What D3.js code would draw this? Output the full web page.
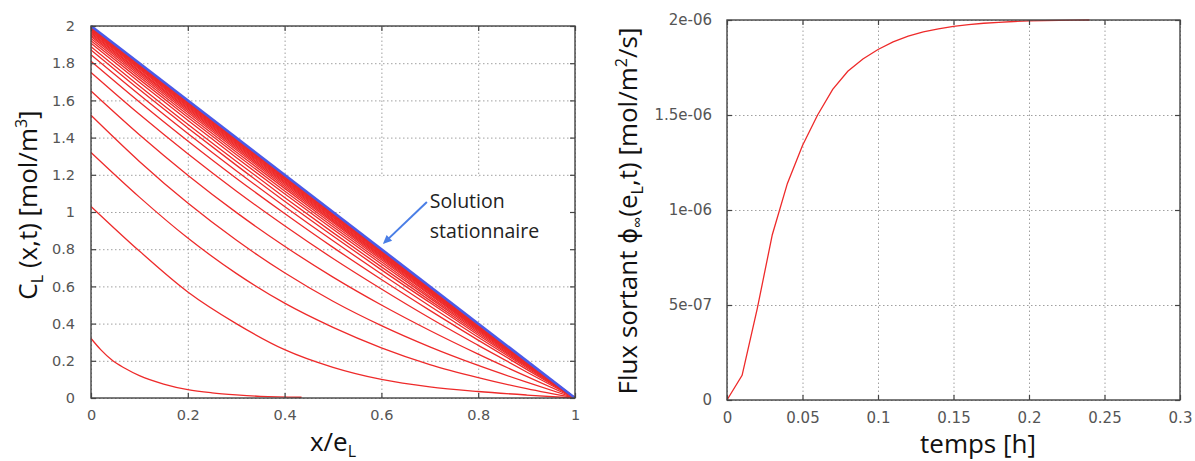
<!DOCTYPE html>
<html><head><meta charset="utf-8">
<script src="https://cdn.jsdelivr.net/npm/d3@7"></script>
<style>body{margin:0;background:#fff}</style></head>
<body><svg id="c" width="1195" height="461"></svg>
<script>
// ---------- DATA ----------
// Left panel: concentration profiles C_L(x,t) vs x/e_L
const profileX = [0,0.1,0.2,0.3,0.4,0.5,0.6,0.7,0.8,0.9,1];
const earlyX = [0,0.02,0.045,0.07,0.1,0.15,0.2,0.25,0.3,0.35,0.435];
const earlyC = [0.32,0.26,0.20,0.16,0.12,0.075,0.045,0.028,0.017,0.009,0.004];
const profiles = [
 [1.03,0.79,0.57,0.40,0.26,0.165,0.10,0.06,0.035,0.016,0],
 [1.32,1.08,0.86,0.67,0.51,0.38,0.27,0.18,0.11,0.05,0],
 [1.52,1.272,1.048,0.849,0.673,0.52,0.389,0.275,0.175,0.085,0],
 [1.65,1.415,1.198,0.998,0.816,0.65,0.50,0.363,0.236,0.116,0],
 [1.75,1.525,1.313,1.113,0.926,0.75,0.586,0.43,0.283,0.14,0],
 [1.81,1.591,1.382,1.182,0.992,0.81,0.637,0.471,0.311,0.154,0],
 [1.845,1.63,1.422,1.222,1.03,0.845,0.667,0.495,0.327,0.163,0],
 [1.871,1.658,1.452,1.252,1.058,0.871,0.689,0.513,0.339,0.169,0],
 [1.889,1.678,1.472,1.273,1.078,0.889,0.705,0.525,0.348,0.173,0],
 [1.907,1.698,1.493,1.293,1.098,0.907,0.72,0.537,0.356,0.178,0],
 [1.921,1.713,1.509,1.309,1.113,0.921,0.732,0.546,0.363,0.181,0],
 [1.933,1.726,1.523,1.323,1.127,0.933,0.743,0.555,0.369,0.184,0],
 [1.943,1.737,1.535,1.335,1.137,0.943,0.751,0.561,0.373,0.186,0],
 [1.951,1.746,1.544,1.344,1.146,0.951,0.758,0.567,0.377,0.188,0],
 [1.958,1.754,1.552,1.352,1.154,0.958,0.764,0.572,0.38,0.19,0],
 [1.964,1.76,1.559,1.359,1.161,0.964,0.769,0.576,0.383,0.191,0],
 [1.97,1.767,1.566,1.366,1.167,0.97,0.774,0.58,0.386,0.193,0],
 [1.975,1.773,1.571,1.371,1.173,0.975,0.779,0.583,0.388,0.194,0],
 [1.98,1.778,1.577,1.377,1.178,0.98,0.783,0.586,0.391,0.195,0],
 [1.984,1.782,1.582,1.382,1.182,0.984,0.786,0.589,0.392,0.196,0],
 [1.988,1.787,1.586,1.386,1.187,0.988,0.79,0.592,0.394,0.197,0],
 [1.991,1.79,1.59,1.39,1.19,0.991,0.792,0.594,0.396,0.198,0],
 [1.995,1.795,1.594,1.394,1.195,0.995,0.796,0.597,0.398,0.199,0]
];
const steadyX = [0,1];
const steadyC = [2,0];

// Right panel: outgoing flux vs time
const timeH = [0,0.01,0.02,0.03,0.04,0.05,0.06,0.07,0.08,0.09,0.10,0.11,0.12,0.13,0.14,0.15,0.16,0.17,0.18,0.19,0.20,0.21,0.22,0.23,0.24];
const fluxOut = [0,1.3e-7,4.8e-7,8.7e-7,1.14e-6,1.34e-6,1.50e-6,1.635e-6,1.73e-6,1.795e-6,1.845e-6,1.885e-6,1.915e-6,1.937e-6,1.953e-6,1.966e-6,1.976e-6,1.983e-6,1.988e-6,1.992e-6,1.995e-6,1.997e-6,1.998e-6,1.999e-6,2.0e-6];

// Tick values & labels
const leftXTicks = [0,0.2,0.4,0.6,0.8,1];
const leftXLabels = ["0","0.2","0.4","0.6","0.8","1"];
const leftYTicks = [0,0.2,0.4,0.6,0.8,1,1.2,1.4,1.6,1.8,2];
const leftYLabels = ["0","0.2","0.4","0.6","0.8","1","1.2","1.4","1.6","1.8","2"];
const rightXTicks = [0,0.05,0.1,0.15,0.2,0.25,0.3];
const rightXLabels = ["0","0.05","0.1","0.15","0.2","0.25","0.3"];
const rightYTicks = [0,5e-7,1e-6,1.5e-6,2e-6];
const rightYLabels = ["0","5e-07","1e-06","1.5e-06","2e-06"];

// ---------- DRAW ----------
const svg = d3.select("#c");
svg.append("rect").attr("width",1195).attr("height",461).attr("fill","#fff");

const frameColor = "#444", tickColor = "#555";

function panel(cfg){
  const {xs, ys, xTicks, xLabels, yTicks, yLabels, fs, xPad, yPad} = cfg;
  const [L,R] = xs.range(), [B,T] = ys.range();
  const g = svg.append("g");
  const gx = g.append("g").attr("transform",`translate(0,${B})`)
    .call(d3.axisBottom(xs).tickValues(xTicks).tickSize(-(B-T)).tickFormat(""));
  const gy = g.append("g").attr("transform",`translate(${L},0)`)
    .call(d3.axisLeft(ys).tickValues(yTicks).tickSize(-(R-L)).tickFormat(""));
  [gx,gy].forEach(a=>{a.select(".domain").remove();
    a.selectAll("line").attr("stroke","#a0a0a0").attr("stroke-width",1).attr("stroke-dasharray","1.5,2.5");});
  const layer = svg.append("g");
  const top = svg.append("g");
  top.append("rect").attr("x",L).attr("y",T).attr("width",R-L).attr("height",B-T)
     .attr("fill","none").attr("stroke",frameColor).attr("stroke-width",1.4);
  const axB = top.append("g").attr("transform",`translate(0,${B})`)
     .call(d3.axisBottom(xs).tickValues(xTicks).tickSizeInner(-5).tickSizeOuter(0).tickPadding(xPad).tickFormat((d,i)=>xLabels[i]));
  const axT = top.append("g").attr("transform",`translate(0,${T})`)
     .call(d3.axisTop(xs).tickValues(xTicks).tickSizeInner(-5).tickSizeOuter(0).tickFormat(""));
  const axL = top.append("g").attr("transform",`translate(${L},0)`)
     .call(d3.axisLeft(ys).tickValues(yTicks).tickSizeInner(-5).tickSizeOuter(0).tickPadding(yPad).tickFormat((d,i)=>yLabels[i]));
  const axR = top.append("g").attr("transform",`translate(${R},0)`)
     .call(d3.axisRight(ys).tickValues(yTicks).tickSizeInner(-5).tickSizeOuter(0).tickFormat(""));
  [axB,axT,axL,axR].forEach(a=>{
    a.select(".domain").remove();
    a.selectAll("line").attr("stroke",frameColor).attr("stroke-width",1.2);
    a.selectAll("text").attr("fill",tickColor).attr("font-family","DejaVu Sans, sans-serif").attr("font-size",fs);
  });
  return {layer, top};
}

// Left panel
const xL = d3.scaleLinear().domain([0,1]).range([91,575]);
const yL = d3.scaleLinear().domain([0,2]).range([398,26]);
const P1 = panel({xs:xL, ys:yL, xTicks:leftXTicks, xLabels:leftXLabels, yTicks:leftYTicks, yLabels:leftYLabels, fs:14.5, xPad:12, yPad:16});

P1.layer.append("rect").attr("x",xL(0.52)).attr("y",yL(1.19))
  .attr("width",xL(0.996)-xL(0.52)).attr("height",yL(0.73)-yL(1.19)).attr("fill","#fff");

const lineL = d3.line().x(d=>xL(d[0])).y(d=>yL(d[1])).curve(d3.curveMonotoneX);
const redCol = "#ee2a2a";
P1.layer.append("path").datum(earlyX.map((x,i)=>[x,earlyC[i]]))
  .attr("d",lineL).attr("fill","none").attr("stroke",redCol).attr("stroke-width",1.3);
P1.layer.selectAll("path.prof").data(profiles).join("path").attr("class","prof")
  .attr("d",c=>lineL(profileX.map((x,i)=>[x,c[i]])))
  .attr("fill","none").attr("stroke",redCol).attr("stroke-width",1.3);
P1.layer.append("path").datum(steadyX.map((x,i)=>[x,steadyC[i]]))
  .attr("d",d3.line().x(d=>xL(d[0])).y(d=>yL(d[1])))
  .attr("fill","none").attr("stroke","#4a5ae8").attr("stroke-width",2.6);

// annotation
const ann = P1.top.append("g");
ann.append("line").attr("x1",xL(0.694)).attr("y1",yL(1.054)).attr("x2",xL(0.612)).attr("y2",yL(0.85))
  .attr("stroke","#4a7ee6").attr("stroke-width",2);
const tipX = xL(0.603), tipY = yL(0.828);
const ang = Math.atan2(yL(0.828)-yL(1.054), xL(0.603)-xL(0.694));
const ah = 9, aw = 4;
ann.append("path").attr("d",`M${tipX},${tipY} L${tipX-ah*Math.cos(ang)+aw*Math.sin(ang)},${tipY-ah*Math.sin(ang)-aw*Math.cos(ang)} L${tipX-ah*Math.cos(ang)-aw*Math.sin(ang)},${tipY-ah*Math.sin(ang)+aw*Math.cos(ang)} Z`)
  .attr("fill","#4a7ee6");
ann.append("text").attr("x",xL(0.70)).attr("y",yL(1.02)).text("Solution")
  .attr("font-family","Open Sans, sans-serif").attr("font-size",19.5).attr("fill","#222");
ann.append("text").attr("x",xL(0.70)).attr("y",yL(0.86)).text("stationnaire")
  .attr("font-family","Open Sans, sans-serif").attr("font-size",19.5).attr("fill","#222");

// Left titles
const tFont = "Open Sans, sans-serif";
const xt = svg.append("text").attr("x",333).attr("y",451).attr("text-anchor","middle")
  .attr("font-family",tFont).attr("font-size",26).attr("fill","#111");
xt.append("tspan").text("x/e");
xt.append("tspan").attr("dy",6).attr("font-size",16).text("L");

const yt = svg.append("text").attr("transform","translate(37,205) rotate(-90)").attr("text-anchor","middle")
  .attr("font-family",tFont).attr("font-size",26).attr("fill","#111");
yt.append("tspan").text("C");
yt.append("tspan").attr("dy",6).attr("font-size",16).text("L");
yt.append("tspan").attr("dy",-6).text(" (x,t) [mol/m");
yt.append("tspan").attr("dy",-10).attr("font-size",16).text("3");
yt.append("tspan").attr("dy",10).text("]");

// Right panel
const xR = d3.scaleLinear().domain([0,0.3]).range([727,1180]);
const yR = d3.scaleLinear().domain([0,2e-6]).range([400,20]);
const P2 = panel({xs:xR, ys:yR, xTicks:rightXTicks, xLabels:rightXLabels, yTicks:rightYTicks, yLabels:rightYLabels, fs:15, xPad:12, yPad:15});
P2.layer.append("path").datum(timeH.map((t,i)=>[t,fluxOut[i]]))
  .attr("d",d3.line().x(d=>xR(d[0])).y(d=>yR(d[1])))
  .attr("fill","none").attr("stroke",redCol).attr("stroke-width",1.3);

svg.append("text").attr("x",978).attr("y",453).attr("text-anchor","middle")
  .attr("font-family",tFont).attr("font-size",26).attr("fill","#111").text("temps [h]");

const yt2 = svg.append("text").attr("transform","translate(637,211) rotate(-90)").attr("text-anchor","middle")
  .attr("font-family",tFont).attr("font-size",26).attr("fill","#111");
yt2.append("tspan").text("Flux sortant ");
yt2.append("tspan").attr("font-family","DejaVu Sans, sans-serif").attr("font-size",24).text("ϕ");
yt2.append("tspan").attr("dy",6).attr("font-size",16).text("∞");
yt2.append("tspan").attr("dy",-6).text("(e");
yt2.append("tspan").attr("dy",6).attr("font-size",16).text("L");
yt2.append("tspan").attr("dy",-6).text(",t) [mol/m");
yt2.append("tspan").attr("dy",-10).attr("font-size",16).text("2");
yt2.append("tspan").attr("dy",10).text("/s]");
</script>
</body></html>
